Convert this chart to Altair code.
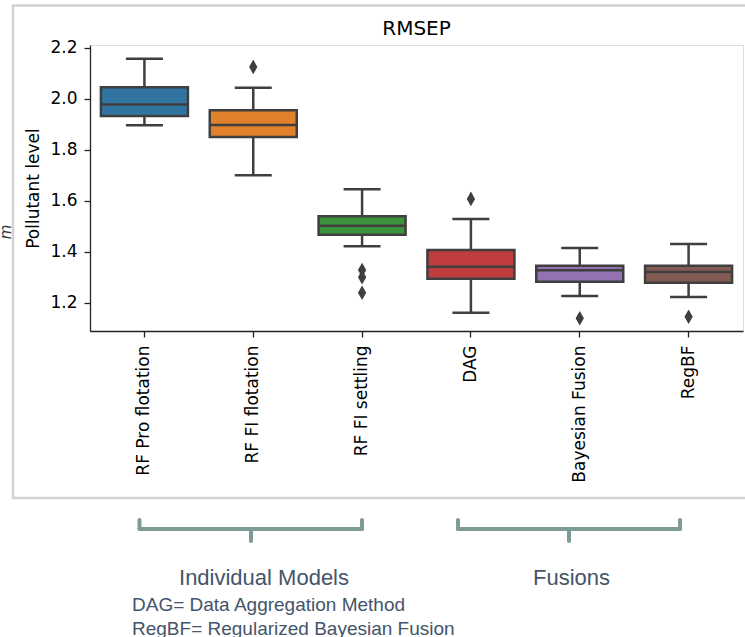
import altair as alt
import pandas as pd

# ---------------- data ----------------
categories = ["RF Pro flotation", "RF FI flotation", "RF FI settling",
              "DAG", "Bayesian Fusion", "RegBF"]
whisker_low = [1.896, 1.700, 1.421, 1.161, 1.226, 1.222]
q1 = [1.932, 1.850, 1.467, 1.294, 1.282, 1.278]
median = [1.978, 1.897, 1.502, 1.341, 1.327, 1.320]
q3 = [2.045, 1.955, 1.539, 1.407, 1.345, 1.345]
whisker_high = [2.157, 2.043, 1.645, 1.528, 1.415, 1.430]

outlier_model = ["RF FI flotation", "RF FI settling", "RF FI settling",
                 "RF FI settling", "DAG", "Bayesian Fusion", "RegBF"]
outlier_value = [2.125, 1.328, 1.300, 1.239, 1.607, 1.139, 1.145]

y_ticks = [1.2, 1.4, 1.6, 1.8, 2.0, 2.2]
box_colors = ["#3274a1", "#e1812c", "#3a923a", "#c03d3e", "#9372b2", "#845b53"]

chart_title = ["RMSEP"]
group_labels = ["Individual Models", "Fusions"]
footnotes = ["DAG= Data Aggregation Method", "RegBF= Regularized Bayesian Fusion"]

# ---------------- tables ----------------
box_df = pd.DataFrame({"model": categories, "lo": whisker_low, "q1": q1,
                       "med": median, "q3": q3, "hi": whisker_high})
out_df = pd.DataFrame({"model": outlier_model, "value": outlier_value})

W, H = 653, 286
LINE = "#3f3f3f"
BW = 87

x_scale = alt.Scale(domain=categories, paddingInner=0, paddingOuter=0)
x_axis = alt.Axis(title="", labelAngle=-90, labelFont="DejaVu Sans", labelFontSize=17,
                  labelColor="#000", tickSize=6, tickColor="#222", tickWidth=1.3,
                  labelPadding=8, domainColor="#222", domainWidth=1.3, grid=False)
y_scale = alt.Scale(domain=[1.089, 2.211], nice=False, zero=False)
y_axis = alt.Axis(title="Pollutant level", values=y_ticks, format=".1f",
                  labelFont="DejaVu Sans", labelFontSize=17, labelColor="#000",
                  tickSize=6, tickColor="#222", tickWidth=1.3, labelPadding=7,
                  domainColor="#222", domainWidth=1.3, grid=False,
                  titleFont="DejaVu Sans", titleFontSize=17, titleFontWeight="normal",
                  titleColor="#000", titleAngle=270, titleX=-51.5, titleY=143,
                  titleAlign="center", titleBaseline="alphabetic")

X = alt.X("model:N", sort=categories, scale=x_scale, axis=x_axis)
color = alt.Color("model:N", scale=alt.Scale(domain=categories, range=box_colors), legend=None)

base = alt.Chart(box_df)

whisk = base.mark_rule(color=LINE, strokeWidth=2.5).encode(
    x=X, y=alt.Y("lo:Q", scale=y_scale, axis=y_axis), y2="hi:Q")
box = base.mark_bar(size=BW, stroke=LINE, strokeWidth=2.5).encode(
    x=X, y=alt.Y("q1:Q", scale=y_scale, axis=y_axis), y2="q3:Q", color=color)
med = base.mark_tick(size=BW, thickness=2.5, color=LINE, opacity=1).encode(
    x=X, y=alt.Y("med:Q", scale=y_scale, axis=y_axis))
cap_lo = base.mark_tick(size=37, thickness=2.5, color=LINE, opacity=1).encode(
    x=X, y=alt.Y("lo:Q", scale=y_scale, axis=y_axis))
cap_hi = base.mark_tick(size=37, thickness=2.5, color=LINE, opacity=1).encode(
    x=X, y=alt.Y("hi:Q", scale=y_scale, axis=y_axis))
outl = alt.Chart(out_df).mark_point(
    shape="M0,-1L0.565,0L0,1L-0.565,0Z", size=216, filled=True,
    color=LINE, opacity=1).encode(
    x=X, y=alt.Y("value:Q", scale=y_scale, axis=y_axis))

# ---------------- annotations (outside the plot area) ----------------
one = pd.DataFrame({"k": [0]})

frame = alt.Chart(one).mark_rect(fill="transparent", stroke="#d2d2d2", strokeWidth=2.5,
                                 clip=False).encode(
    x=alt.value(-77), x2=alt.value(680), y=alt.value(-39.5), y2=alt.value(453))

BR = "#7f9b95"
def brace(x0, x1, xc):
    yh, yt, ytip = 484, 475, 496
    kw = dict(color=BR, strokeWidth=4, strokeCap="round")
    return [
        alt.Chart(one).mark_rule(**kw).encode(x=alt.value(x0), x2=alt.value(x1), y=alt.value(yh)),
        alt.Chart(one).mark_rule(**kw).encode(x=alt.value(x0), y=alt.value(yt), y2=alt.value(yh)),
        alt.Chart(one).mark_rule(**kw).encode(x=alt.value(x1), y=alt.value(yt), y2=alt.value(yh)),
        alt.Chart(one).mark_rule(**kw).encode(x=alt.value(xc), y=alt.value(yh), y2=alt.value(ytip)),
    ]

braces = brace(49.5, 272, 161) + brace(368, 590, 479)

TXT = "#44546a"
def label(text, x, y, size, align):
    return alt.Chart(pd.DataFrame({"t": [text]})).mark_text(
        font="Liberation Sans", fontSize=size, color=TXT, align=align,
        baseline="alphabetic").encode(x=alt.value(x), y=alt.value(y), text="t:N")

texts = [
    label(group_labels[0], 174, 540, 22, "center"),
    label(group_labels[1], 481.5, 540, 22, "center"),
    label(footnotes[0], 42, 565.5, 19, "left"),
    label(footnotes[1], 42, 589.5, 19, "left"),
]

title_mark = alt.Chart(pd.DataFrame({"t": chart_title})).mark_text(
    font="DejaVu Sans", fontSize=20, color="#000", align="center",
    baseline="alphabetic").encode(x=alt.value(W / 2), y=alt.value(-10), text="t:N")

m_mark = alt.Chart(pd.DataFrame({"t": ["m"]})).mark_text(
    font="DejaVu Sans", fontSize=15, fontStyle="italic", color="#333", angle=270,
    align="center", baseline="alphabetic").encode(
    x=alt.value(-79), y=alt.value(187), text="t:N")

chart = alt.layer(whisk, box, med, cap_lo, cap_hi, outl, frame, *braces, *texts,
                  title_mark, m_mark).properties(
    width=W, height=H,
    autosize=alt.AutoSizeParams(type="none"),
    padding={"left": 90, "top": 45, "right": 2, "bottom": 306},
).configure_view(stroke="#222", strokeWidth=1.3).configure(background="white")

chart.save("out.html", embed_options={"renderer": "svg", "actions": False})
